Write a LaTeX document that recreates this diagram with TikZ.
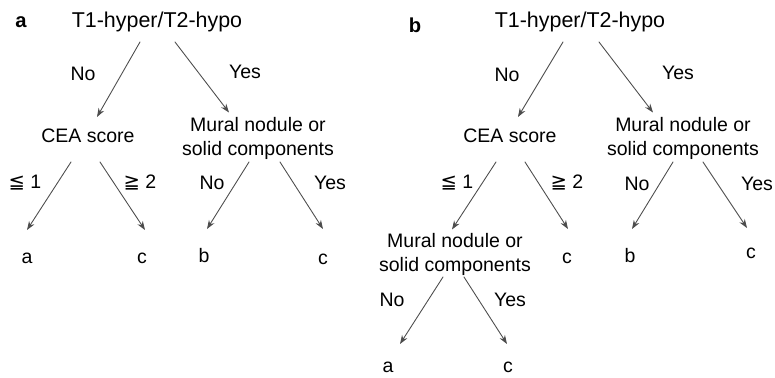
\documentclass[tikz,border=0pt]{standalone}
\usepackage{fontspec}
\usepackage{tikz}
\setmainfont{Liberation Sans}
\newfontfamily\symfont{DejaVu Sans}
\usetikzlibrary{calc}
\usetikzlibrary{arrows.meta}
\definecolor{qqgrey}{rgb}{0.3,0.3,0.3}
\tikzstyle{every node}=[inner sep=0pt]

\begin{document}
\begin{tikzpicture}[line cap=round,line join=round,x=0.02cm,y=-0.02cm,
    txt/.style={font=\fontsize{11.1}{13.2}\selectfont,align=center},
    title/.style={font=\fontsize{12.2}{14}\selectfont},
    panel/.style={font=\fontsize{11.5}{14}\selectfont\bfseries},
    arr/.style={-{Stealth[length=5pt,width=3.6pt]},line width=0.5pt,color=qqgrey}]
            \useasboundingbox (0,0) rectangle (775,378);
            % panel a
            \node[panel] (panelA) at (21,22) {a};
            \node[title] (rootA) at (157,22) {T1-hyper/T2-hypo};
            \node[txt] (ceaA) at (88,136) {CEA score};
            \node[txt] (muralA) at (258,138.5) {Mural nodule or\\solid components};
            \node[txt] (leafAa) at (27,258) {a};
            \node[txt] (leafAc) at (142,258) {c};
            \node[txt] (leafAb) at (204,256) {b};
            \node[txt] (leafAcc) at (323,259) {c};
            \draw [arr] ($(rootA)+(-17,20)$) -- ($(ceaA)+(9,-19)$);
            \draw [arr] ($(rootA)+(18,20)$) -- ($(muralA)+(-29,-26)$);
            \draw [arr] ($(ceaA)+(-17,26)$) -- ($(leafAa)+(0,-28)$);
            \draw [arr] ($(ceaA)+(12,26)$) -- ($(leafAc)+(3,-28)$);
            \draw [arr] ($(muralA)+(-9,23.5)$) -- ($(leafAb)+(3,-27)$);
            \draw [arr] ($(muralA)+(22,23.5)$) -- ($(leafAcc)+(0,-30)$);
            \node[txt] (noA) at (83,74) {No};
            \node[txt] (yesA) at (245,72) {Yes};
            \node[txt] (leqA) at (25,183) {{\symfont ≦} 1};
            \node[txt] (geqA) at (140,183) {{\symfont ≧} 2};
            \node[txt] (noAA) at (212,183) {No};
            \node[txt] (yesAA) at (330,183) {Yes};
            % panel b
            \node[panel] (panelB) at (415,25) {b};
            \node[title] (rootB) at (580,22) {T1-hyper/T2-hypo};
            \node[txt] (ceaB) at (510,136) {CEA score};
            \node[txt] (muralB) at (683,138.5) {Mural nodule or\\solid components};
            \node[txt] (subB) at (455,254.5) {Mural nodule or\\solid components};
            \node[txt] (leafBc) at (567,258) {c};
            \node[txt] (leafBb) at (630,256) {b};
            \node[txt] (leafBcc) at (751,253) {c};
            \node[txt] (leafBa) at (388,367) {a};
            \node[txt] (leafBccc) at (508,367) {c};
            \draw [arr] ($(rootB)+(-17,20)$) -- ($(ceaB)+(8,-19)$);
            \draw [arr] ($(rootB)+(19,20)$) -- ($(muralB)+(-30,-26)$);
            \draw [arr] ($(ceaB)+(-14,26)$) -- ($(subB)+(-3,-25)$);
            \draw [arr] ($(ceaB)+(15,26)$) -- ($(leafBc)+(1,-29)$);
            \draw [arr] ($(muralB)+(-10,23.5)$) -- ($(leafBb)+(2,-27)$);
            \draw [arr] ($(muralB)+(20,23.5)$) -- ($(leafBcc)+(-4,-25)$);
            \draw [arr] ($(subB)+(-12,22.5)$) -- ($(leafBa)+(12,-23)$);
            \draw [arr] ($(subB)+(9,22.5)$) -- ($(leafBccc)+(-1,-23)$);
            \node[txt] (noB) at (507,75) {No};
            \node[txt] (yesB) at (678,73) {Yes};
            \node[txt] (leqB) at (457,183) {{\symfont ≦} 1};
            \node[txt] (geqB) at (567,183) {{\symfont ≧} 2};
            \node[txt] (noBB) at (637,184) {No};
            \node[txt] (yesBB) at (757,184) {Yes};
            \node[txt] (noBBB) at (392,300) {No};
            \node[txt] (yesBBB) at (510,300) {Yes};
\end{tikzpicture}
\end{document}
